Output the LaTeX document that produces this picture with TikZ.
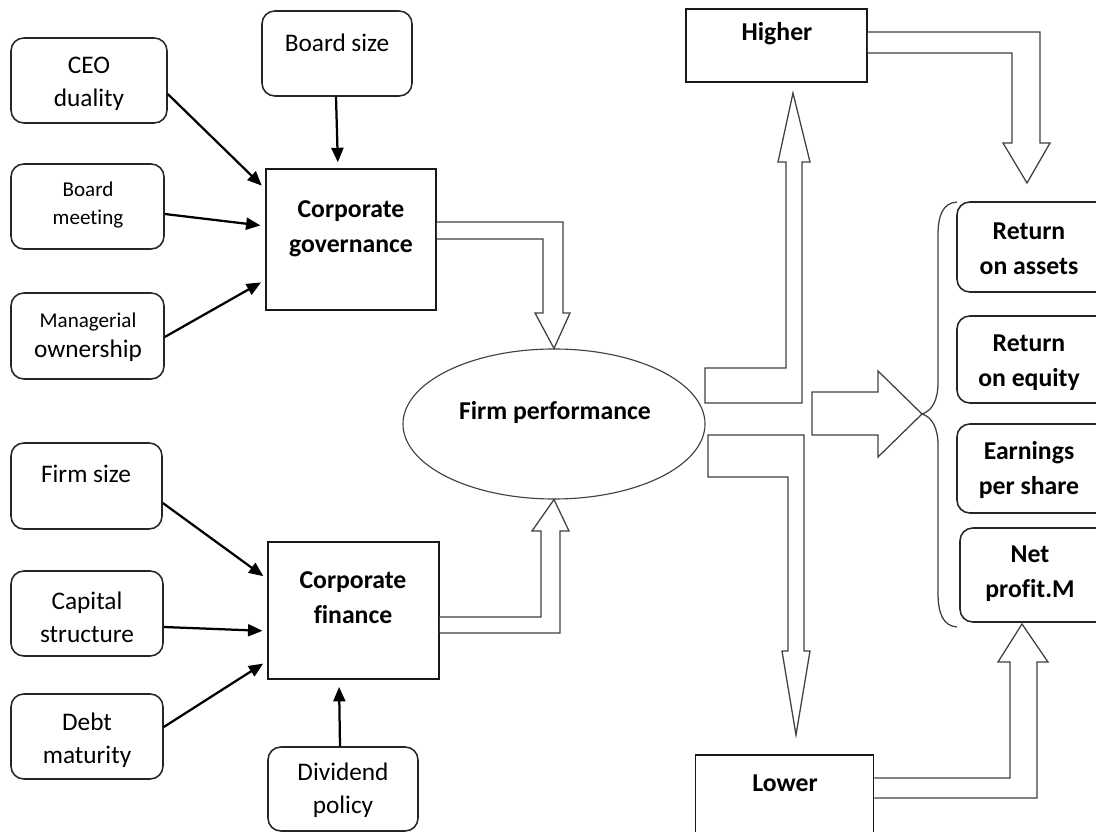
\documentclass[tikz,border=0pt]{standalone}
\usepackage{fontspec}
\setmainfont{Carlito}[Ligatures={NoCommon}]
\usetikzlibrary{arrows.meta,shapes.geometric}
\begin{document}
\begin{tikzpicture}[x=0.25mm,y=-0.25mm,
 rbox/.style={draw=black!85, line width=1.1pt, rounded corners=3.2mm, inner sep=0pt},
 sbox/.style={draw=black!90, line width=1.1pt, inner sep=0pt},
 txt/.style={align=center, inner sep=0pt, font=\fontsize{18}{23.5}\selectfont},
 btxt/.style={align=center, inner sep=0pt, font=\fontsize{18.3}{25}\selectfont\bfseries},
 stxt/.style={align=center, inner sep=0pt, font=\fontsize{15}{20.6}\selectfont},
 conn/.style={line width=1.6pt, -{Triangle[length=3.6mm,width=3mm]}, shorten >=1.2mm},
 barrow/.style={draw=black!75, line width=0.9pt, fill=white, line join=miter},
]
\fill[white] (0,0) rectangle (1096,832);
\path[use as bounding box] (0,0) rectangle (1096,832);
\clip (0,0) rectangle (1096,832);

% left upper group
\node[rbox, minimum width=39mm, minimum height=21.25mm] (ceo) at (89,80.5) {};
\node[rbox, minimum width=38.25mm, minimum height=21.25mm] (bmeet) at (87.5,206.5) {};
\node[rbox, minimum width=38.25mm, minimum height=21.5mm] (mown) at (87.5,336) {};
\node[rbox, minimum width=37.5mm, minimum height=21.25mm] (bsize) at (337,53.5) {};
\node[sbox, minimum width=42.5mm, minimum height=35.25mm] (cg) at (351,239.5) {};

\node[txt] (tceo) at (89,84) {CEO\\duality};
\node[stxt] (tbmeet) at (88,205) {Board\\meeting};
\node[txt] (tmown) at (88,337) {{\fontsize{15}{20}\selectfont Managerial}\\[-2.5pt]ownership};
\node[txt] (tbsize) at (337,43) {Board size};
\node[btxt] (tcg) at (351,229) {Corporate\\governance};

% left lower group
\node[rbox, minimum width=37.75mm, minimum height=21.5mm] (fsize) at (86.5,486) {};
\node[rbox, minimum width=38mm, minimum height=21.25mm] (capst) at (87,613.5) {};
\node[rbox, minimum width=38mm, minimum height=21.25mm] (debt) at (87,736.5) {};
\node[sbox, minimum width=42.75mm, minimum height=34.25mm] (cf) at (353.5,610.5) {};
\node[rbox, minimum width=37.5mm, minimum height=21mm] (div) at (343,789) {};

\node[txt] (tfsize) at (86,474) {Firm size};
\node[txt] (tcapst) at (87,617) {Capital\\structure};
\node[txt] (tdebt) at (87,740) {Debt\\maturity};
\node[btxt] (tcf) at (353,598) {Corporate\\finance};
\node[txt] (tdiv) at (343,790) {Dividend\\policy};

% centre
\node[draw=black!75, line width=0.8pt, ellipse, minimum width=75.5mm, minimum height=37.5mm, inner sep=0pt] (perf) at (554,424) {};
\node[btxt] (tperf) at (555,412) {Firm performance};

% right
\node[sbox, minimum width=45.25mm, minimum height=18.25mm] (higher) at (776.5,45.5) {};
\node[sbox, minimum width=44.5mm, minimum height=23.75mm] (lower) at (784.5,802.5) {};
\node[btxt] (thigher) at (777,34) {Higher};
\node[btxt] (tlower) at (785,783) {Lower};

\node[rbox, minimum width=38.25mm, minimum height=22.5mm] (roa) at (1033.5,247) {};
\node[rbox, minimum width=38.25mm, minimum height=21.75mm] (roe) at (1033.5,359.5) {};
\node[rbox, minimum width=38.25mm, minimum height=22.25mm] (eps) at (1033.5,468.5) {};
\node[rbox, minimum width=37.5mm, minimum height=23.5mm] (net) at (1035,575) {};

\node[btxt] (troa) at (1029,249) {Return\\on assets};
\node[btxt] (troe) at (1029,363) {Return\\on equity};
\node[btxt] (teps) at (1029,470) {Earnings\\per share};
\node[btxt] (tnet) at (1030,574) {Net\\profit.M};

% black connectors
\draw[conn] (ceo.east |- 0,94) -- (cg.west |- 0,189);
\draw[conn] (bmeet.east |- 0,214) -- (cg.west |- 0,226);
\draw[conn] (mown.east |- 0,337) -- (cg.west |- 0,280);
\draw[conn, shorten >=1.5mm] (bsize.south -| 336,0) -- (cg.north -| 338,0);
\draw[conn] (fsize.east |- 0,503) -- (cf.west |- 0,579);
\draw[conn] (capst.east |- 0,627) -- (cf.west |- 0,631);
\draw[conn] (debt.east |- 0,727) -- (cf.west |- 0,661);
\draw[conn, shorten >=1.8mm] (div.north -| 340,0) -- (cf.south -| 339,0);

% block arrows
\coordinate (tipH) at (793,93);
\coordinate (tipA) at (1027,183);
\coordinate (tipL) at (796,735);
\coordinate (tipN) at (1022,624);
\coordinate (tip) at (922,414);
\draw[barrow] (cg.east |- 0,222) -- (563,222) -- (563,313) -- (570,313) -- (perf.north) -- (535,313) -- (543,313) -- (543,239) -- (cg.east |- 0,239);
\draw[barrow] (cf.east |- 0,617) -- (541,617) -- (541,531) -- (532,531) -- (perf.south) -- (569,531) -- (560,531) -- (560,633) -- (cf.east |- 0,633);
\draw[barrow] (705,368) -- (786,368) -- (786,162) -- (778,162) -- (tipH) -- (810,162) -- (802,162) -- (802,403) -- (705,403) -- cycle;
\draw[barrow] (higher.east |- 0,32) -- (1040,32) -- (1040,143) -- (1050,143) -- (tipA) -- (1003,143) -- (1012,143) -- (1012,53) -- (higher.east |- 0,53);
\draw[barrow] (708,435) -- (804,435) -- (804,651) -- (810,651) -- (tipL) -- (782,651) -- (788,651) -- (788,477) -- (708,477) -- cycle;
\draw[barrow] (lower.east |- 0,778) -- (1010,778) -- (1010,662) -- (998,662) -- (tipN) -- (1048,662) -- (1037,662) -- (1037,798) -- (lower.east |- 0,798);
\draw[barrow] (812,392) -- (878,392) -- (878,371) -- (tip) -- (878,457) -- (878,435) -- (812,435) -- cycle;

% brace
\draw[draw=black!75, line width=0.9pt] (957,202) .. controls (943,203) and (938,215) .. (938,235) -- (938,383) .. controls (938,400) and (932,411) .. (tip) .. controls (932,417) and (938,428) .. (938,445) -- (938,593) .. controls (938,613) and (943,626) .. (957,627);
\end{tikzpicture}
\end{document}
